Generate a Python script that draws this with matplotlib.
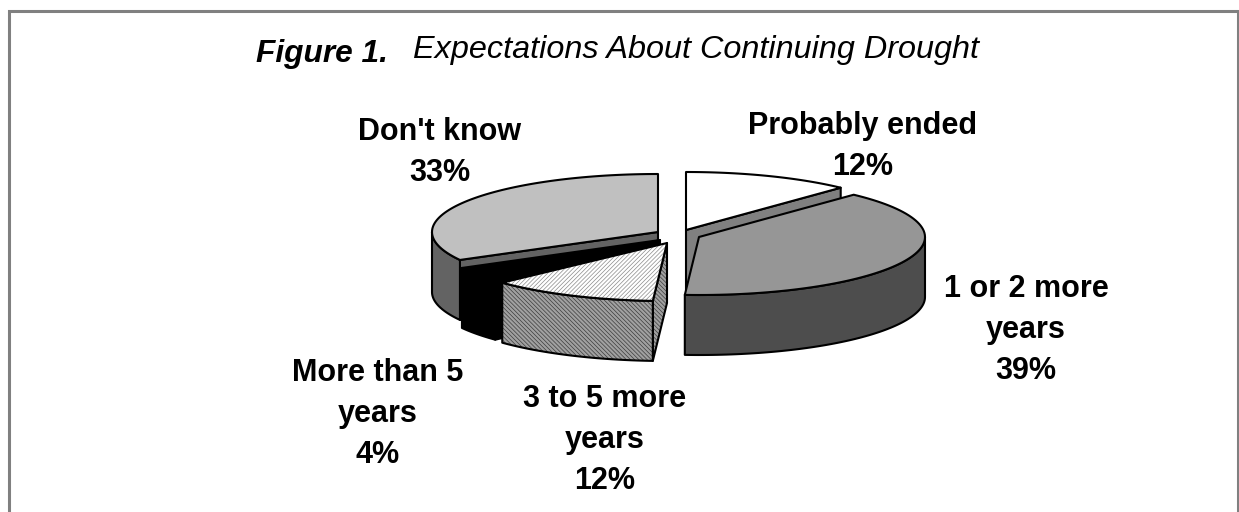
import numpy as np
import matplotlib
matplotlib.use('Agg')
import matplotlib.pyplot as plt
from matplotlib.patches import Polygon

plt.rcParams['font.family'] = ['Liberation Sans', 'DejaVu Sans']
plt.rcParams['hatch.linewidth'] = 0.5

labels = [['Probably ended'], ['1 or 2 more', 'years'], ['3 to 5 more', 'years'], ['More than 5', 'years'], ["Don't know"]]
values = [12, 39, 12, 4, 33]

# pie geometry in pixels
A = 226
B = 58
DEPTH = 60
centers = [(686, 230), (699, 237), (667, 243), (660, 240), (658, 232)]
top_colors = ['#ffffff', '#969696', '#ffffff', '#000000', '#c0c0c0']
wall_colors = ['#808080', '#4d4d4d', '#a0a0a0', '#000000', '#636363']
top_hatch = [None, None, '////////', None, None]
wall_hatch = [None, None, '\\\\\\\\\\\\\\\\', None, None]
hatch_colors = [None, None, '#8a8a8a', None, None]
wall_hatch_colors = [None, None, '#3c3c3c', None, None]
# which cut face shows: 0 start side, 1 end side
cut_side = [1, None, 0, 0, 0]
draw_order = [0, 1, 4, 3, 2]
# x centre and first baseline of every label
label_pos = [(863, 134), (1026, 297), (605, 407), (378, 381), (440, 140)]
LINE_STEP = 41


def pt(c, ang):
    r = np.radians(ang)
    return c[0] + A * np.sin(r), c[1] - B * np.cos(r)


def arc(c, a0, a1):
    t = np.linspace(a0, a1, 80)
    return np.column_stack(pt(c, t))


def shape(ax, xy, fc, hatch=None, hc=None):
    if hatch:
        ax.add_patch(Polygon(xy, closed=True, facecolor=fc, edgecolor=hc, hatch=hatch, lw=0))
        ax.add_patch(Polygon(xy, closed=True, fill=False, edgecolor='black', lw=1.5, joinstyle='round'))
    else:
        ax.add_patch(Polygon(xy, closed=True, facecolor=fc, edgecolor='black', lw=1.5, joinstyle='round'))


fig = plt.figure(figsize=(12.39, 5.12), dpi=100)
ax = fig.add_axes([0, 0, 1, 1])
ax.set_xlim(0, 1239)
ax.set_ylim(512, 0)
ax.axis('off')

# frame
ax.plot([8.5, 8.5, 1238, 1238], [512, 10.5, 10.5, 512], color='#808080', lw=2.2, solid_joinstyle='miter')

edges = np.concatenate([[0], np.cumsum(values)]) / sum(values) * 360
for i in draw_order:
    c = centers[i]
    a0, a1 = edges[i], edges[i + 1]
    # flat cut face
    if cut_side[i] is not None:
        a = a1 if cut_side[i] == 1 else a0
        p = pt(c, a)
        cut = [c, p, (p[0], p[1] + DEPTH), (c[0], c[1] + DEPTH)]
        shape(ax, cut, wall_colors[i], wall_hatch[i], wall_hatch_colors[i])
    # outer wall, only the part that faces the viewer
    w0, w1 = max(a0, 90), min(a1, 270)
    if w1 > w0:
        up = arc(c, w0, w1)
        down = up[::-1] + [0, DEPTH]
        shape(ax, np.vstack([up, down]), wall_colors[i], wall_hatch[i], wall_hatch_colors[i])
    # top face
    top = np.vstack([[c], arc(c, a0, a1)])
    shape(ax, top, top_colors[i], top_hatch[i], hatch_colors[i])

for i in range(len(values)):
    x, y = label_pos[i]
    lines = labels[i] + [f'{values[i]}%']
    for n, line in enumerate(lines):
        ax.text(x, y + n * LINE_STEP, line, ha='center', va='baseline',
                fontsize=22, fontweight='bold', color='black')

ax.text(256, 62, 'Figure 1.', ha='left', va='baseline', fontsize=22.8, fontweight='bold', style='italic')
ax.text(413, 58, 'Expectations About Continuing Drought', ha='left', va='baseline', fontsize=23.3, style='italic')

fig.savefig('out.png', dpi=100)
